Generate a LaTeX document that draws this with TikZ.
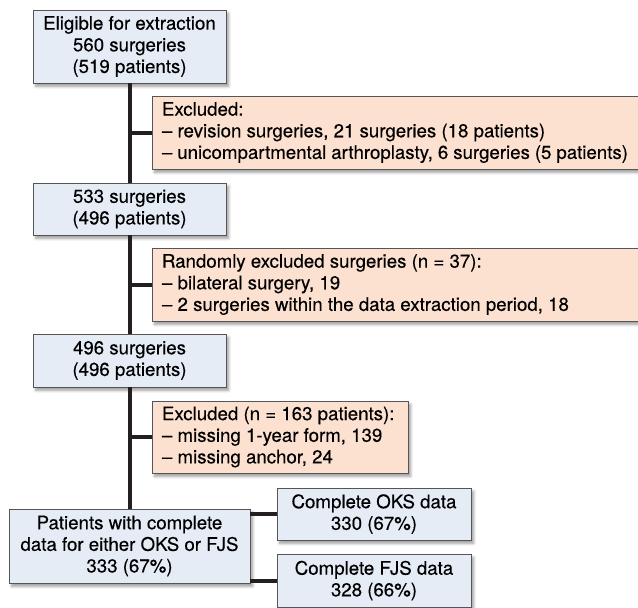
\documentclass[tikz,border=0pt]{standalone}
\usepackage{fontspec}
\setmainfont[FakeBold=0.3]{TeX Gyre Heros}
\usepackage{tikz}
\usetikzlibrary{shadows.blur}

\definecolor{boxblue}{RGB}{229,236,246}
\definecolor{boxpeach}{RGB}{252,225,208}
\definecolor{boxline}{RGB}{85,85,85}
\definecolor{trunkline}{RGB}{35,31,32}

\begin{document}
\begin{tikzpicture}[x=0.75pt,y=0.75pt,yscale=-1,xscale=1,
  stepbox/.style={draw=boxline,line width=0.6pt,fill=boxblue,align=center,inner sep=0pt,
    font=\fontsize{14}{16.2}\selectfont,
    blur shadow={shadow xshift=2pt,shadow yshift=-2.5pt,shadow blur steps=6}},
  exclbox/.style={stepbox,fill=boxpeach,align=flush left,inner xsep=7.5pt,inner ysep=0pt},
  flowline/.style={draw=trunkline,line width=3pt}]
\useasboundingbox (0,0) rectangle (638,607);

% Text Node
\node [stepbox,minimum width=144.75pt,minimum height=54.75pt] (elig) at (129.5,46.5) {Eligible for extraction\\560 surgeries\\(519 patients)};
% Text Node
\node [exclbox,text width=349.5pt,minimum height=54.75pt] (exclA) at (395,132.5) {Excluded:\\– revision surgeries, 21 surgeries (18 patients)\\– unicompartmental arthroplasty, 6 surgeries (5 patients)};
% Text Node
\node [stepbox,minimum width=144.75pt,minimum height=39pt] (surgA) at (129.5,209) {533 surgeries\\(496 patients)};
% Text Node
\node [exclbox,text width=349.5pt,minimum height=54.75pt] (exclB) at (395,284.5) {Randomly excluded surgeries (n = 37):\\– bilateral surgery, 19\\– 2 surgeries within the data extraction period, 18};
% Text Node
\node [stepbox,minimum width=144.75pt,minimum height=39.75pt] (surgB) at (129.5,360.5) {496 surgeries\\(496 patients)};
% Text Node
\node [exclbox,text width=177pt,minimum height=54pt] (exclC) at (280,437) {Excluded (n = 163 patients):\\– missing 1-year form, 139\\– missing anchor, 24};
% Text Node
\node [stepbox,minimum width=180.75pt,minimum height=55.5pt] (compl) at (129.5,546) {Patients with complete\\data for either OKS or FJS\\333 (67\%)};
% Text Node
\node [stepbox,minimum width=145.5pt,minimum height=39pt] (oks) at (374,514) {Complete OKS data\\330 (67\%)};
% Text Node
\node [stepbox,minimum width=145.5pt,minimum height=39.75pt] (fjs) at (374,580.5) {Complete FJS data\\328 (66\%)};

%Straight Lines
\draw [flowline] (elig.south) -- (surgA.north);
\draw [flowline] (surgA.south) -- (surgB.north);
\draw [flowline] (surgB.south) -- (compl.north);
\draw [flowline] (exclA.west) -- (exclA.west -| elig.south);
\draw [flowline] (exclB.west) -- (exclB.west -| elig.south);
\draw [flowline] (exclC.west) -- (exclC.west -| elig.south);
\draw [flowline] (oks.west) -- (oks.west -| compl.east);
\draw [flowline] (fjs.west) -- (fjs.west -| compl.east);

\end{tikzpicture}
\end{document}
